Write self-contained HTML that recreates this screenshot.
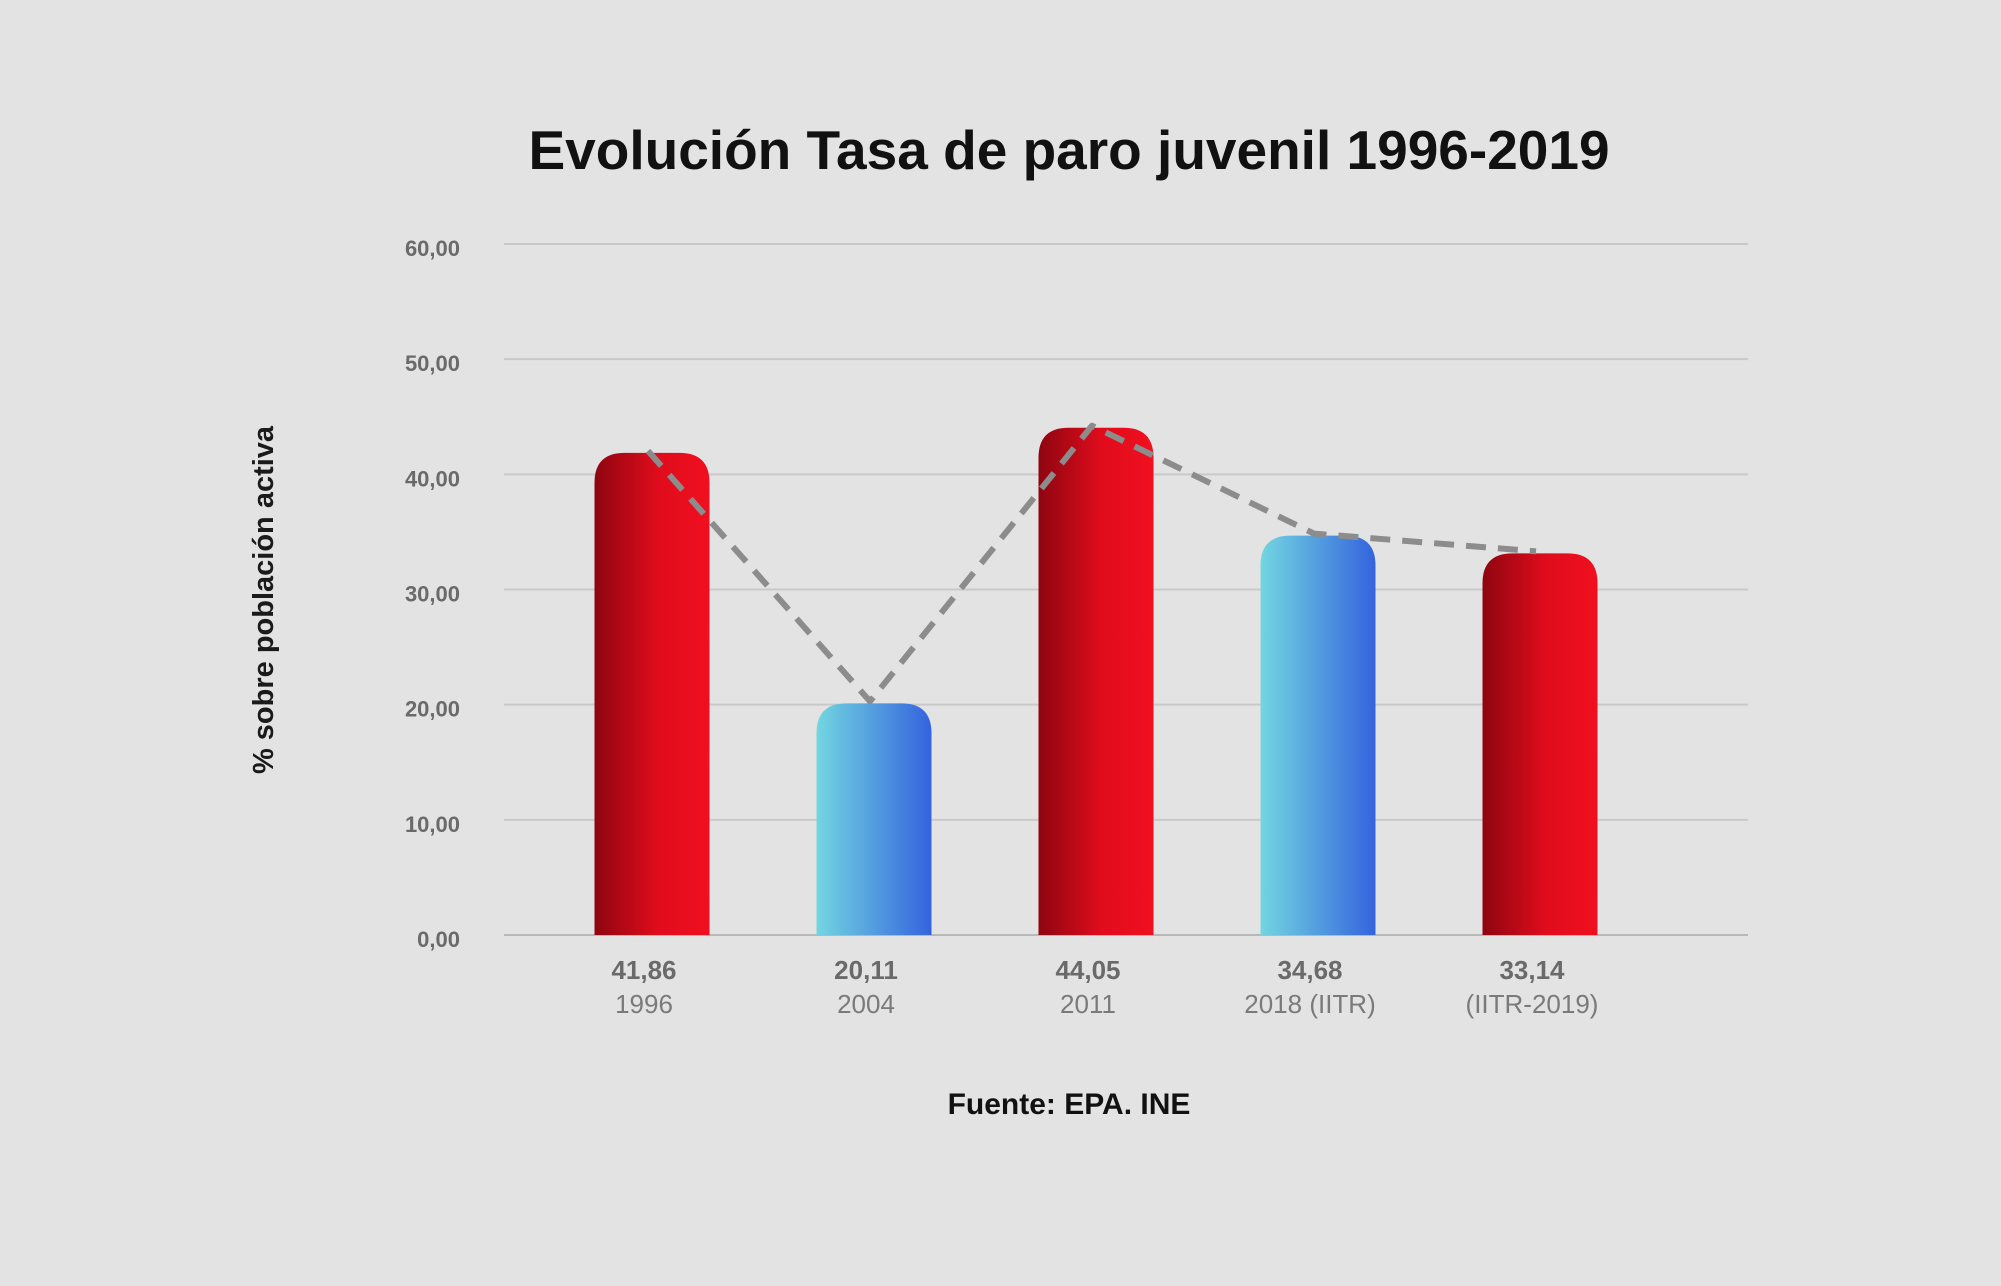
<!DOCTYPE html>
<html><head><meta charset="utf-8">
<style>
html,body{margin:0;padding:0;background:#e3e3e3;}
svg{display:block;font-family:"Liberation Sans",sans-serif;}
</style></head>
<body>
<svg id="chart" width="2001" height="1286" viewBox="0 0 2001 1286" xmlns="http://www.w3.org/2000/svg">
<defs>
<linearGradient id="gRed" x1="0" x2="1" y1="0" y2="0">
<stop offset="0" stop-color="#8e0510"/><stop offset="0.55" stop-color="#e00c1c"/><stop offset="1" stop-color="#f00f1f"/>
</linearGradient>
<linearGradient id="gBlue" x1="0" x2="1" y1="0" y2="0">
<stop offset="0" stop-color="#72d6e0"/><stop offset="1" stop-color="#3463de"/>
</linearGradient>
</defs>
<rect width="2001" height="1286" fill="#e3e3e3"/>
<text x="1069" y="169" text-anchor="middle" font-size="55" font-weight="bold" fill="#111">Evolución Tasa de paro juvenil 1996-2019</text>
<text transform="translate(273,600) rotate(-90)" text-anchor="middle" font-size="29" font-weight="bold" fill="#1a1a1a">% sobre población activa</text>
<text x="1069" y="1114" text-anchor="middle" font-size="30" font-weight="bold" fill="#111">Fuente: EPA. INE</text>
<g id="grid"></g><g id="bars"></g><g id="line"></g><g id="labels"></g>
</svg>
<script>
const categories = ["1996","2004","2011","2018 (IITR)","(IITR-2019)"];
const values = [41.86,20.11,44.05,34.68,33.14];
const valueLabels = ["41,86","20,11","44,05","34,68","33,14"];
const colors = ["red","blue","red","blue","red"];
const yTicks = [0,10,20,30,40,50,60];
const yTickLabels = ["0,00","10,00","20,00","30,00","40,00","50,00","60,00"];

const NS="http://www.w3.org/2000/svg";
const plotL=504, plotR=1748, y0=935, y60=244;
const yScale=v=>y0-(v/60)*(y0-y60);
const xScale=i=>652+i*222;
const barW=115;
function mk(tag,attrs,parent){const e=document.createElementNS(NS,tag);for(const k in attrs)e.setAttribute(k,attrs[k]);parent.appendChild(e);return e;}
const grid=document.getElementById('grid'),bars=document.getElementById('bars'),line=document.getElementById('line'),labels=document.getElementById('labels');
yTicks.forEach((t,i)=>{
  const y=yScale(t);
  const l=mk('line',{x1:plotL,x2:plotR,y1:y,y2:y,stroke:t===0?'#b8b8b8':'#c9c9c9','stroke-width':2},grid);
  
  
  const tx=mk('text',{x:460,y:y+12,'text-anchor':'end','font-size':22,'font-weight':'bold',fill:'#6a6a6a'},grid);
  tx.textContent=yTickLabels[i];
  
  
});
values.forEach((v,i)=>{
  const cx=xScale(i), top=yScale(v), r=30;
  const x=cx-barW/2;
  const d=`M${x},${y0} L${x},${top+r} Q${x},${top} ${x+r},${top} L${x+barW-r},${top} Q${x+barW},${top} ${x+barW},${top+r} L${x+barW},${y0} Z`;
  const p=mk('path',{d:d,fill:colors[i]==='red'?'url(#gRed)':'url(#gBlue)'},bars);
  
  
  const vt=mk('text',{x:cx-8,y:979,'text-anchor':'middle','font-size':26,'font-weight':'bold',fill:'#6a6a6a'},labels);
  vt.textContent=valueLabels[i];
  
  
  const ct=mk('text',{x:cx-8,y:1013,'text-anchor':'middle','font-size':26,fill:'#7a7a7a'},labels);
  ct.textContent=categories[i];
  
  
});
const pts=values.map((v,i)=>(xScale(i)-4)+','+(yScale(v)-2)).join(' ');
const pl=mk('polyline',{points:pts,fill:'none',stroke:'#8c8c8c','stroke-width':6,'stroke-dasharray':'20 12','stroke-linejoin':'round'},line);


</script>
</body></html>
